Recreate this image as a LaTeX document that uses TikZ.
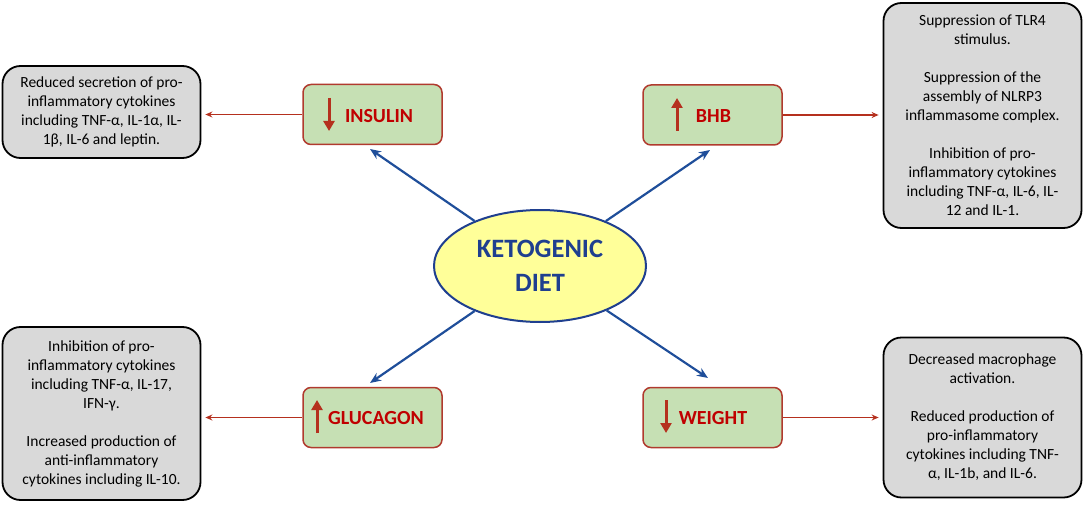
\documentclass[tikz,border=0pt]{standalone}
\usepackage{fontspec}
\setmainfont{Carlito}
\usetikzlibrary{arrows.meta,shapes.geometric}
\definecolor{gfill}{HTML}{C6E0B4}
\definecolor{gborder}{HTML}{B03A2E}
\definecolor{rtext}{HTML}{C00000}
\definecolor{gray1}{HTML}{D9D9D9}
\definecolor{yel}{HTML}{FFFF99}
\definecolor{dblue}{HTML}{1F3F8F}
\definecolor{ablue}{HTML}{1F4E9A}
\definecolor{rline}{HTML}{B5301E}
\tikzset{
  gbox/.style={draw=gborder, line width=1.5pt, fill=gfill, rounded corners=8pt,
    minimum width=139pt, minimum height=60pt, inner sep=0pt},
  gtext/.style={text=rtext, font=\fontsize{20}{24}\selectfont\bfseries, inner sep=0pt},
  updn/.style={draw=rline, line width=3pt, -{Triangle[width=11pt,length=10pt]}},
  infobox/.style={draw=black, line width=1.8pt, fill=gray1, rounded corners=18pt,
    align=center, font=\fontsize{15.5}{19}\selectfont, inner sep=0pt,
    minimum width=198pt},
  redarr/.style={draw=rline, line width=1.4pt, -{Stealth[length=7pt,width=6pt]}, shorten >=4pt},
  bluearr/.style={draw=ablue, line width=2.2pt, -{Stealth[length=11pt,width=9pt]}},
}
\begin{document}
\begin{tikzpicture}[x=1pt,y=-1pt]
\useasboundingbox (0,0) rectangle (1084,508);
% centre
\node[ellipse, draw=dblue, line width=2pt, fill=yel, minimum width=212pt, minimum height=112pt,
  align=center, text=dblue, font=\fontsize{26.5}{34}\selectfont\bfseries, inner sep=0pt]
  (kd) at (540,266) {KETOGENIC\\DIET};
% green boxes
\node[gbox] (ins) at (372.5,114.5) {};
\node[gbox] (bhb) at (712.5,115) {};
\node[gbox] (glu) at (372.5,417.5) {};
\node[gbox] (wgt) at (712.5,417.5) {};
\node[gtext] (insT) at (379,116) {INSULIN};
\node[gtext] (bhbT) at (713.5,116) {BHB};
\node[gtext] (gluT) at (376,418.5) {GLUCAGON};
\node[gtext] (wgtT) at (713,418) {WEIGHT};
\draw[updn] (329,98) -- (329,131);
\draw[updn] (677,131) -- (677,98);
\draw[updn] (317,433) -- (317,400);
\draw[updn] (666,400) -- (666,433);
% info boxes
\node[infobox, minimum height=92pt] (L1) at (101.5,112) {Reduced secretion of pro-\\inflammatory cytokines\\including TNF-α, IL-1α, IL-\\1β, IL-6 and leptin.};
\node[infobox, minimum height=225pt] (R1) at (982.5,115.5) {Suppression of TLR4\\stimulus.\\[19pt]Suppression of the\\assembly of NLRP3\\inflammasome complex.\\[19pt]Inhibition of pro-\\inflammatory cytokines\\including TNF-α, IL-6, IL-\\12 and IL-1.};
\node[infobox, minimum height=173pt] (L2) at (101.5,413.5) {Inhibition of pro-\\inflammatory cytokines\\including TNF-α, IL-17,\\IFN-γ.\\[19pt]Increased production of\\anti-inflammatory\\cytokines including IL-10.};
\node[infobox, minimum height=160pt] (R2) at (982.5,417.5) {Decreased macrophage\\activation.\\[19pt]Reduced production of\\pro-inflammatory\\cytokines including TNF-\\α, IL-1b, and IL-6.};
% red connectors
\draw[redarr] (ins) -- (ins -| L1.east);
\draw[redarr] (bhb) -- (bhb -| R1.west);
\draw[redarr] (glu) -- (glu -| L2.east);
\draw[redarr] (wgt) -- (wgt -| R2.west);
% blue arrows
\coordinate (t1) at (370,149);
\coordinate (t2) at (710,150);
\coordinate (t3) at (370,383);
\coordinate (t4) at (708,378);
\draw[bluearr] (kd) -- (t1);
\draw[bluearr] (kd) -- (t2);
\draw[bluearr] (kd) -- (t3);
\draw[bluearr] (kd) -- (t4);
\end{tikzpicture}
\end{document}
